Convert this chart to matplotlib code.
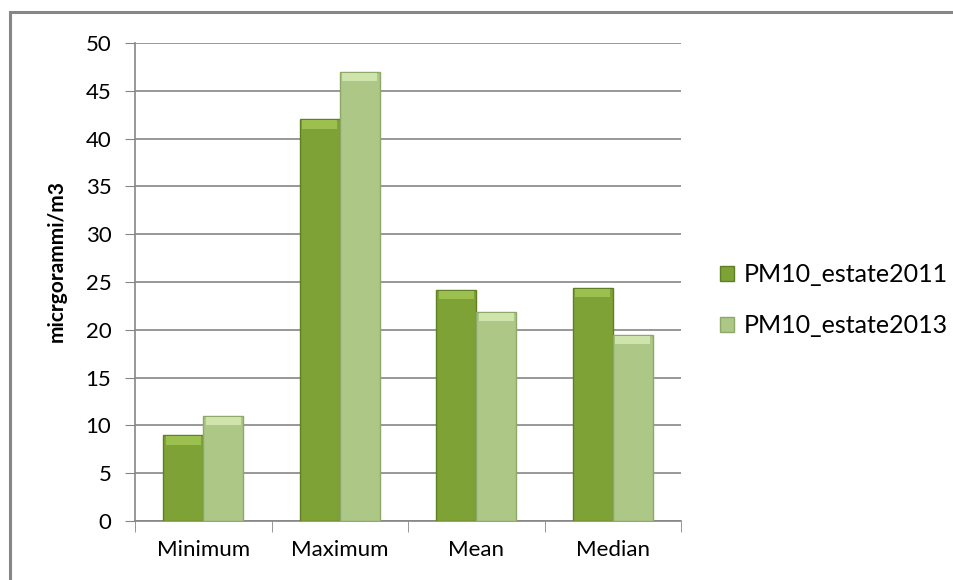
import matplotlib.pyplot as plt
import matplotlib.patches as mpatches
import numpy as np

categories = ['Minimum', 'Maximum', 'Mean', 'Median']
pm10_2011 = [9.0, 42.0, 24.2, 24.4]
pm10_2013 = [11.0, 47.0, 21.9, 19.5]
series_names = ['PM10_estate2011', 'PM10_estate2013']

col_2011 = '#7ea236'
col_2013 = '#adc787'
edge_2011 = '#5f7f25'
edge_2013 = '#8ea86a'
grid_col = '#868686'

plt.rcParams['font.family'] = ['Lato', 'DejaVu Sans']

fig = plt.figure(figsize=(9.54, 5.8), dpi=100)
ax = fig.add_axes([0.1415, 0.1017, 0.5725, 0.8242])

# outer chart frame
fig.patches.append(mpatches.Rectangle((0.0105, -0.05), 1.2, 1.03, transform=fig.transFigure,
                                      fill=False, edgecolor='#868686', linewidth=2.2))

x = np.arange(len(categories))
w = 0.293
b1 = ax.bar(x - w / 2, pm10_2011, w, color=col_2011, edgecolor=edge_2011, linewidth=1.0,
            label=series_names[0], zorder=3)
b2 = ax.bar(x + w / 2, pm10_2013, w, color=col_2013, edgecolor=edge_2013, linewidth=1.0,
            label=series_names[1], zorder=3)

# lighter bevel strip at the top of each bar
for bars, light in ((b1, '#9cc050'), (b2, '#cfe3ad')):
    for r in bars:
        h = r.get_height()
        ax.bar(r.get_x() + r.get_width() / 2, 0.9, r.get_width() * 0.88, bottom=h - 1.0,
               color=light, linewidth=0, zorder=4)

ax.set_xlim(-0.5, 3.5)
ax.set_ylim(0, 50)
ax.set_yticks(range(0, 51, 5))
ax.set_xticks(x)
ax.set_xticklabels(categories)
ax.set_xticks(np.arange(-0.5, 4, 1), minor=True)
ax.tick_params(axis='x', which='major', length=0, pad=14, labelsize=16)
ax.tick_params(axis='x', which='minor', length=8, color=grid_col, direction='out')
ax.tick_params(axis='y', length=7, color=grid_col, labelsize=16, pad=10)

ax.yaxis.grid(True, color=grid_col, linewidth=1.2, zorder=0)
ax.set_axisbelow(True)
for s in ['top', 'right']:
    ax.spines[s].set_visible(False)
for s in ['left', 'bottom']:
    ax.spines[s].set_color(grid_col)
    ax.spines[s].set_linewidth(1.2)

ax.set_ylabel('micrgorammi/m3', fontsize=15, fontweight='bold')
ax.yaxis.set_label_coords(-0.125, 0.544)

ax.legend(handles=[b1, b2], loc='center left', bbox_to_anchor=(1.03, 0.462), frameon=False,
          fontsize=18, handlelength=0.55, handleheight=0.55, labelspacing=1.1, handletextpad=0.4)

fig.savefig('out.png', dpi=100)
